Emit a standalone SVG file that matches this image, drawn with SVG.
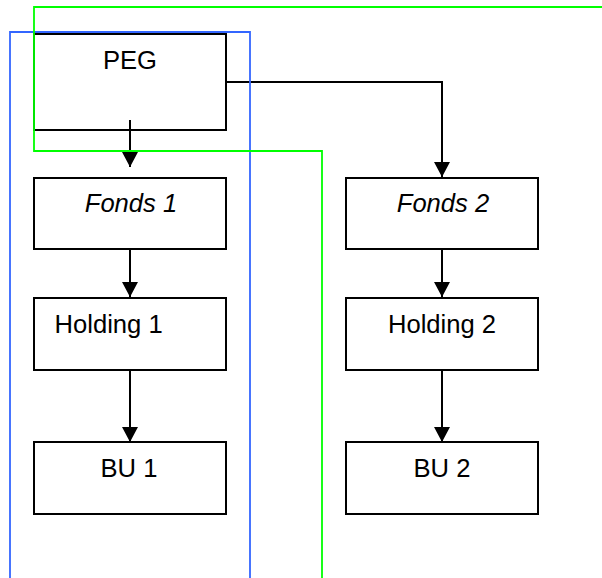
<svg xmlns="http://www.w3.org/2000/svg" width="602" height="578" viewBox="0 0 602 578">
<defs>
<style>
.box{fill:#fff;stroke:#000;stroke-width:2}
.lbl{font-family:"Liberation Sans",Arial,sans-serif;font-size:25.6px;fill:#000}
.it{font-style:italic}
.con{fill:none;stroke:#000;stroke-width:2}
.blue{fill:none;stroke:#3366ff;stroke-width:1.8}
.green{fill:none;stroke:#00ff00;stroke-width:1.8}
</style>
<marker id="arr" viewBox="0 0 15 16" refX="15" refY="8" markerWidth="15" markerHeight="16" markerUnits="userSpaceOnUse" orient="auto">
<path d="M0,0 L15,8 L0,16 Z" fill="#000"/>
</marker>
</defs>
<rect width="602" height="578" fill="#fff"/>
<g id="peg"><rect class="box" x="34" y="34" width="192" height="96"/><text class="lbl" x="130" y="69" text-anchor="middle">PEG</text></g>
<g id="fonds1"><rect class="box" x="34" y="178" width="192" height="71"/><text class="lbl it" x="131" y="212" text-anchor="middle">Fonds 1</text></g>
<g id="holding1"><rect class="box" x="34" y="298" width="192" height="72"/><text class="lbl" x="54.5" y="333">Holding 1</text></g>
<g id="bu1"><rect class="box" x="34" y="442" width="192" height="72"/><text class="lbl" x="129" y="477" text-anchor="middle">BU 1</text></g>
<g id="fonds2"><rect class="box" x="346" y="178" width="192" height="71"/><text class="lbl it" x="443" y="212" text-anchor="middle">Fonds 2</text></g>
<g id="holding2"><rect class="box" x="346" y="298" width="192" height="72"/><text class="lbl" x="442" y="333" text-anchor="middle">Holding 2</text></g>
<g id="bu2"><rect class="box" x="346" y="442" width="192" height="72"/><text class="lbl" x="442" y="477" text-anchor="middle">BU 2</text></g>
<g id="connectors">
<path class="con" d="M130,120 V167" marker-end="url(#arr)"/>
<path class="con" d="M226,82 H442 V177" marker-end="url(#arr)"/>
<path class="con" d="M130,249 V297" marker-end="url(#arr)"/>
<path class="con" d="M130,370 V442" marker-end="url(#arr)"/>
<path class="con" d="M442,249 V297" marker-end="url(#arr)"/>
<path class="con" d="M442,370 V442" marker-end="url(#arr)"/>
</g>
<g id="groups">
<path id="blue-frame" class="blue" d="M10,580 V32 H250 V580"/>
<path id="green-frame" class="green" d="M604,7 H34 V151 H322 V580"/>
</g>
</svg>
